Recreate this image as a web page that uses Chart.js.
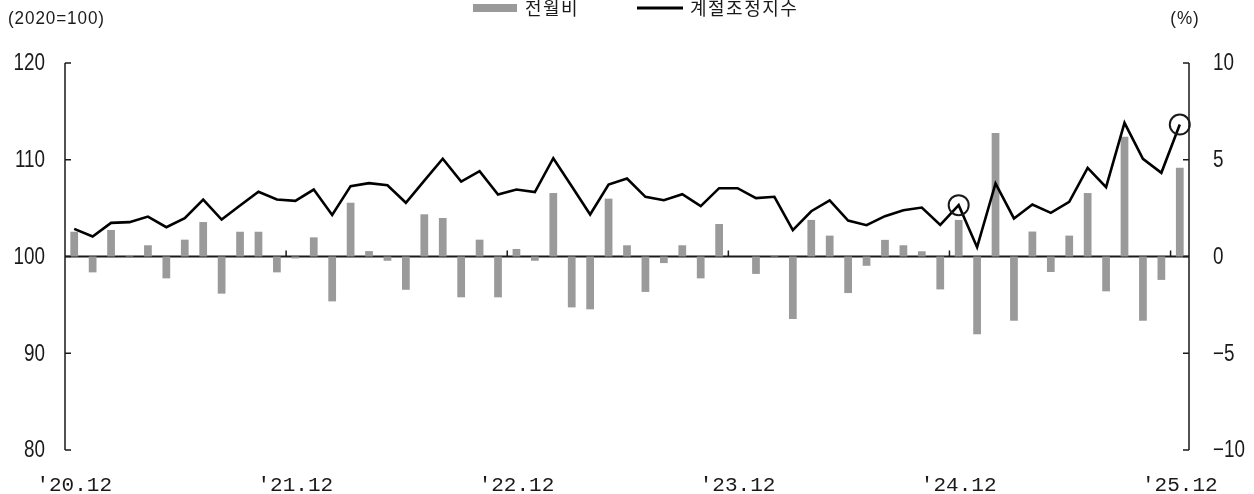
<!DOCTYPE html>
<html><head><meta charset="utf-8">
<script src="https://cdn.jsdelivr.net/npm/chart.js@4"></script>
<style>html,body{margin:0;padding:0;background:#fff}#wrap{width:1254px;height:494px;position:relative}</style>
</head><body><div id="wrap"><canvas id="c" width="1254" height="494"></canvas></div>
<script>
const categories = [
"'20.12",
"'21.01","'21.02","'21.03","'21.04","'21.05","'21.06","'21.07","'21.08","'21.09","'21.10","'21.11","'21.12",
"'22.01","'22.02","'22.03","'22.04","'22.05","'22.06","'22.07","'22.08","'22.09","'22.10","'22.11","'22.12",
"'23.01","'23.02","'23.03","'23.04","'23.05","'23.06","'23.07","'23.08","'23.09","'23.10","'23.11","'23.12",
"'24.01","'24.02","'24.03","'24.04","'24.05","'24.06","'24.07","'24.08","'24.09","'24.10","'24.11","'24.12",
"'25.01","'25.02","'25.03","'25.04","'25.05","'25.06","'25.07","'25.08","'25.09","'25.10","'25.11","'25.12"
];
const tickLabels = ["'20.12","'21.12","'22.12","'23.12","'24.12","'25.12"];
const highlighted = ["'24.12","'25.12"];

// 전월비 (%), right axis
const momChange = [
1.28,
-0.82,1.37,0.08,0.58,-1.13,0.87,1.78,-1.92,1.28,1.28,-0.82,-0.10,
0.99,-2.32,2.78,0.28,-0.22,-1.72,2.18,1.99,-2.11,0.87,-2.11,0.39,
-0.22,3.28,-2.63,-2.73,2.99,0.58,-1.83,-0.34,0.58,-1.13,1.68,0.00,
-0.90,0.05,-3.23,1.89,1.08,-1.89,-0.48,0.86,0.58,0.27,-1.70,1.89,
-4.02,6.38,-3.32,1.29,-0.80,1.08,3.28,-1.80,6.19,-3.32,-1.21,4.59
];
// 계절조정지수 (2020=100), left axis
const seasonalIndex = [
102.86,
102.07,103.48,103.55,104.13,103.03,103.96,105.89,103.82,105.27,106.69,105.89,105.75,
106.92,104.30,107.27,107.58,107.37,105.55,107.85,110.10,107.75,108.82,106.41,106.92,
106.65,110.16,107.27,104.34,107.44,108.06,106.17,105.82,106.44,105.20,107.06,107.06,
106.03,106.17,102.72,104.68,105.79,103.72,103.24,104.17,104.79,105.06,103.27,105.31,
100.96,107.55,103.93,105.37,104.51,105.65,109.16,107.17,113.82,110.10,108.65,113.64
];
const leftTicks = [80, 90, 100, 110, 120];
const rightTicks = [-10, -5, 0, 5, 10];
const seriesNames = ["전월비", "계절조정지수"];
const leftUnit = "(2020=100)";
const rightUnit = "(%)";

const NUM_FONT = '"Liberation Sans", sans-serif';
const KR_FONT = '"Noto Sans CJK KR", "Noto Sans", sans-serif';
const BAR_COLOR = '#9a9a9a';
const INK = '#1a1a1a';

function fmt(v) { return v < 0 ? '\u2212' + Math.abs(v) : String(v); }

function narrowText(ctx, text, x, y, align, squeeze) {
  ctx.save();
  ctx.translate(x, y);
  ctx.scale(squeeze, 1);
  ctx.textAlign = align;
  ctx.fillText(text, 0, 0);
  ctx.restore();
}

const decor = {
  id: 'decor',
  beforeDatasetsDraw(chart) {
    const {ctx, chartArea: a, scales} = chart;
    const y0 = scales.y1.getPixelForValue(0);
    ctx.save();
    ctx.strokeStyle = INK;
    ctx.lineWidth = 2;
    ctx.beginPath(); ctx.moveTo(a.left, y0); ctx.lineTo(a.right, y0); ctx.stroke();
    ctx.lineWidth = 1.5;
    tickLabels.forEach(l => {
      const i = categories.indexOf(l);
      if (i <= 0) return;
      const x = (scales.x.getPixelForValue(i - 1) + scales.x.getPixelForValue(i)) / 2;
      ctx.beginPath(); ctx.moveTo(x, y0); ctx.lineTo(x, y0 - 6); ctx.stroke();
    });
    ctx.restore();
  },
  afterDraw(chart) {
    const {ctx, chartArea: a, scales} = chart;
    ctx.save();
    ctx.strokeStyle = INK;
    ctx.lineWidth = 1.5;
    // axis lines
    ctx.beginPath();
    ctx.moveTo(a.left, a.top); ctx.lineTo(a.left, a.bottom);
    ctx.moveTo(a.right, a.top); ctx.lineTo(a.right, a.bottom);
    ctx.stroke();
    ctx.beginPath();
    leftTicks.forEach(v => { const y = scales.y.getPixelForValue(v); ctx.moveTo(a.left, y); ctx.lineTo(a.left + 6, y); });
    rightTicks.forEach(v => { const y = scales.y1.getPixelForValue(v); ctx.moveTo(a.right, y); ctx.lineTo(a.right - 6, y); });
    ctx.stroke();
    // axis tick labels (slightly condensed, like the original typeface)
    ctx.fillStyle = INK;
    ctx.textBaseline = 'middle';
    ctx.font = '23px ' + NUM_FONT;
    leftTicks.forEach(v => narrowText(ctx, fmt(v), a.left - 20, scales.y.getPixelForValue(v) + 1, 'right', 0.82));
    rightTicks.forEach(v => narrowText(ctx, fmt(v), a.right + 24, scales.y1.getPixelForValue(v) + 1, 'left', 0.82));
    // highlight circles
    ctx.lineWidth = 2;
    highlighted.forEach(l => {
      const i = categories.indexOf(l);
      const x = scales.x.getPixelForValue(i);
      const y = scales.y.getPixelForValue(seasonalIndex[i]);
      ctx.beginPath(); ctx.arc(x, y, 10, 0, Math.PI * 2); ctx.stroke();
    });
    // units
    ctx.font = '19px "Liberation Sans", sans-serif';
    if ('letterSpacing' in ctx) ctx.letterSpacing = '1px';
    narrowText(ctx, leftUnit, 8, 19, 'left', 0.9);
    narrowText(ctx, rightUnit, 1185, 19, 'center', 0.9);
    // legend
    ctx.fillStyle = BAR_COLOR;
    ctx.fillRect(473, 4, 44, 8);
    ctx.strokeStyle = '#000';
    ctx.lineWidth = 3;
    ctx.beginPath(); ctx.moveTo(637, 8); ctx.lineTo(683, 8); ctx.stroke();
    ctx.fillStyle = INK;
    ctx.textAlign = 'left';
    ctx.font = '18px ' + KR_FONT;
    if ('letterSpacing' in ctx) ctx.letterSpacing = '1.5px';
    ctx.fillText(seriesNames[0], 525, 8);
    ctx.fillText(seriesNames[1], 690, 8);
    ctx.restore();
  }
};

new Chart(document.getElementById('c'), {
  data: {
    labels: categories,
    datasets: [
      { type: 'line', label: seriesNames[1], data: seasonalIndex, yAxisID: 'y',
        borderColor: '#000', borderWidth: 2.6, pointRadius: 0, tension: 0, order: 0 },
      { type: 'bar', label: seriesNames[0], data: momChange, yAxisID: 'y1',
        backgroundColor: BAR_COLOR, barPercentage: 0.42, categoryPercentage: 1, order: 1 }
    ]
  },
  options: {
    responsive: false,
    animation: false,
    devicePixelRatio: 1,
    layout: { padding: { top: 63, left: 0, right: 0, bottom: 0 } },
    plugins: { legend: { display: false }, tooltip: { enabled: false } },
    scales: {
      x: {
        type: 'category', offset: true,
        grid: { display: false }, border: { display: false },
        ticks: {
          autoSkip: false, maxRotation: 0, minRotation: 0, padding: 15,
          color: INK, font: { family: '"Liberation Mono", monospace', size: 21 },
          callback: (v, i) => tickLabels.includes(categories[i]) ? categories[i] : ''
        },
        afterFit: s => { s.height = 44; }
      },
      y: {
        position: 'left', min: 80, max: 120,
        grid: { display: false }, border: { display: false },
        ticks: { display: false, stepSize: 10 },
        afterFit: s => { s.width = 65; }
      },
      y1: {
        position: 'right', min: -10, max: 10,
        grid: { display: false }, border: { display: false },
        ticks: { display: false, stepSize: 5 },
        afterFit: s => { s.width = 65; }
      }
    }
  },
  plugins: [decor]
});
</script>
</body></html>
